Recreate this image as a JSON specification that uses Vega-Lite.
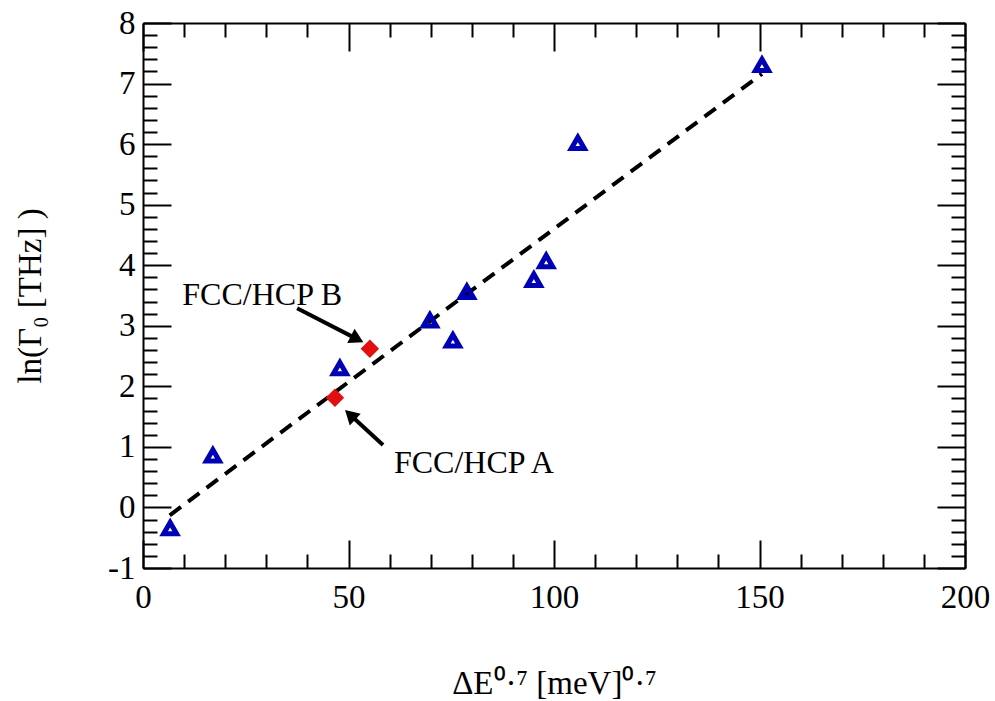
{
  "$schema": "https://vega.github.io/schema/vega-lite/v6.json",
  "width": 822,
  "height": 545,
  "autosize": {"type": "none"},
  "padding": {"left": 143, "top": 23, "right": 30, "bottom": 133},
  "background": "white",
  "config": {
    "view": {"stroke": null},
    "font": "Liberation Serif",
    "axis": {
      "domainColor": "black",
      "domainWidth": 2,
      "tickColor": "black",
      "tickWidth": 2,
      "grid": false,
      "labelFont": "Liberation Serif",
      "labelFontSize": 33,
      "labelColor": "black",
      "titleFont": "Liberation Serif",
      "titleFontSize": 33,
      "titleFontWeight": "normal",
      "titleColor": "black"
    }
  },
  "datasets": {
    "tri": [
      {"x": 6.6, "y": -0.34},
      {"x": 17.0, "y": 0.86},
      {"x": 47.9, "y": 2.3},
      {"x": 69.8, "y": 3.09},
      {"x": 75.4, "y": 2.76},
      {"x": 78.8, "y": 3.56},
      {"x": 95.1, "y": 3.76},
      {"x": 98.1, "y": 4.07},
      {"x": 105.8, "y": 6.02},
      {"x": 150.6, "y": 7.31}
    ],
    "red": [
      {"x": 46.7, "y": 1.81},
      {"x": 55.2, "y": 2.62}
    ],
    "fit": [
      {"x": 6.5, "y": -0.13},
      {"x": 150.6, "y": 7.16}
    ],
    "labels": [
      {"x": 29.0, "y": 3.51, "text": "FCC/HCP B"},
      {"x": 80.5, "y": 0.73, "text": "FCC/HCP A"}
    ],
    "arrows": [
      {"x": 37.5, "y": 3.29, "x2": 52.1, "y2": 2.78, "angle": 117},
      {"x": 58.4, "y": 1.03, "x2": 50.4, "y2": 1.53, "angle": 313}
    ]
  },
  "layer": [
    {
      "data": {"name": "fit"},
      "mark": {"type": "line", "color": "black", "strokeWidth": 4, "strokeDash": [14, 9]},
      "encoding": {
        "x": {
          "field": "x", "type": "quantitative",
          "scale": {"domain": [0, 200], "nice": false, "zero": false},
          "axis": {
            "orient": "bottom",
            "title": "ΔE⁰·⁷ [meV]⁰·⁷",
            "titleY": 115,
            "titleBaseline": "middle",
            "values": [0,10,20,30,40,50,60,70,80,90,100,110,120,130,140,150,160,170,180,190,200],
            "tickSize": {"condition": {"test": "datum.value % 50 === 0", "value": -28}, "value": -14},
            "labelExpr": "datum.value % 50 === 0 ? datum.label : ''",
            "labelPadding": 41,
            "labelFlush": false,
            "labelOverlap": false
          }
        },
        "y": {
          "field": "y", "type": "quantitative",
          "scale": {"domain": [-1, 8], "nice": false, "zero": false},
          "axis": {
            "orient": "left",
            "title": "ln(Γ₀ [THz] )",
            "titleX": -113,
            "titleBaseline": "middle",
            "values": [-1,-0.8,-0.6,-0.4,-0.2,0,0.2,0.4,0.6,0.8,1,1.2,1.4,1.6,1.8,2,2.2,2.4,2.6,2.8,3,3.2,3.4,3.6,3.8,4,4.2,4.4,4.6,4.8,5,5.2,5.4,5.6,5.8,6,6.2,6.4,6.6,6.8,7,7.2,7.4,7.6,7.8,8],
            "tickSize": {"condition": {"test": "abs(datum.value - round(datum.value)) < 0.01", "value": -28}, "value": -14},
            "labelExpr": "abs(datum.value - round(datum.value)) < 0.01 ? ('' + round(datum.value)) : ''",
            "labelPadding": 36,
            "labelFlush": false,
            "labelOverlap": false
          }
        }
      }
    },
    {
      "data": {"name": "tri"},
      "mark": {"type": "point", "shape": "triangle-up", "size": 170, "filled": false, "stroke": "#0000b4", "strokeWidth": 5, "opacity": 1},
      "encoding": {
        "x": {
          "field": "x", "type": "quantitative",
          "axis": {
            "orient": "top",
            "title": null,
            "labels": false,
            "values": [0,10,20,30,40,50,60,70,80,90,100,110,120,130,140,150,160,170,180,190,200],
            "tickSize": {"condition": {"test": "datum.value % 50 === 0", "value": -28}, "value": -14}
          }
        },
        "y": {
          "field": "y", "type": "quantitative",
          "axis": {
            "orient": "right",
            "title": null,
            "labels": false,
            "values": [-1,-0.8,-0.6,-0.4,-0.2,0,0.2,0.4,0.6,0.8,1,1.2,1.4,1.6,1.8,2,2.2,2.4,2.6,2.8,3,3.2,3.4,3.6,3.8,4,4.2,4.4,4.6,4.8,5,5.2,5.4,5.6,5.8,6,6.2,6.4,6.6,6.8,7,7.2,7.4,7.6,7.8,8],
            "tickSize": {"condition": {"test": "abs(datum.value - round(datum.value)) < 0.01", "value": -28}, "value": -14}
          }
        }
      }
    },
    {
      "data": {"name": "red"},
      "mark": {"type": "point", "shape": "diamond", "size": 340, "filled": true, "color": "#e01010", "opacity": 1},
      "encoding": {
        "x": {"field": "x", "type": "quantitative", "axis": null},
        "y": {"field": "y", "type": "quantitative", "axis": null}
      }
    },
    {
      "data": {"name": "arrows"},
      "mark": {"type": "rule", "color": "black", "strokeWidth": 4},
      "encoding": {
        "x": {"field": "x", "type": "quantitative", "axis": null},
        "y": {"field": "y", "type": "quantitative", "axis": null},
        "x2": {"field": "x2"},
        "y2": {"field": "y2"}
      }
    },
    {
      "data": {"name": "arrows"},
      "mark": {"type": "point", "shape": "triangle-up", "size": 260, "filled": true, "color": "black", "opacity": 1},
      "encoding": {
        "x": {"field": "x2", "type": "quantitative", "axis": null},
        "y": {"field": "y2", "type": "quantitative", "axis": null},
        "angle": {"field": "angle", "type": "quantitative", "scale": null}
      }
    },
    {
      "data": {"name": "labels"},
      "mark": {"type": "text", "font": "Liberation Serif", "fontSize": 32, "color": "black", "align": "center", "baseline": "middle"},
      "encoding": {
        "x": {"field": "x", "type": "quantitative", "axis": null},
        "y": {"field": "y", "type": "quantitative", "axis": null},
        "text": {"field": "text"}
      }
    }
  ],
  "resolve": {"axis": {"x": "independent", "y": "independent"}}
}
